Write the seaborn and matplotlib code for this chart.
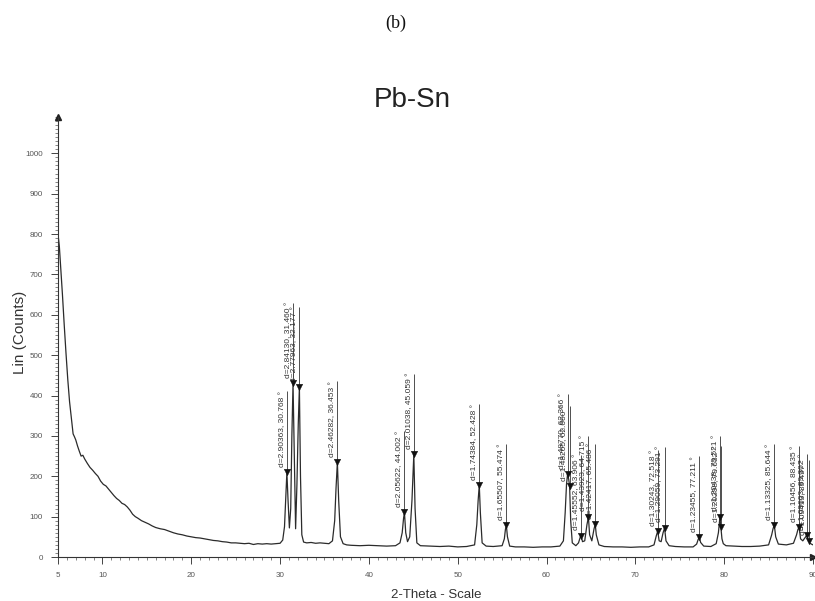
import matplotlib
matplotlib.use("Agg")
import matplotlib.pyplot as plt
import seaborn as sns
import numpy as np
import pandas as pd
from matplotlib.ticker import MultipleLocator, FixedLocator

# ---------------- data ----------------
two_theta = [
    5.0, 5.15, 5.3, 5.5, 5.7, 5.9, 6.1, 6.3, 6.5, 6.7, 6.85, 7.0, 7.2, 7.4, 7.6, 7.8,
    8.0, 8.3, 8.6, 8.9, 9.2, 9.5, 9.8, 10.1, 10.4, 10.7, 11.0, 11.3, 11.6, 11.9, 12.2,
    12.5, 12.8, 13.1, 13.4, 13.7, 14.0, 14.4, 14.8, 15.2, 15.6, 16.0, 16.5, 17.0, 17.5,
    18.0, 18.5, 19.0, 19.5, 20.0, 20.5, 21.0, 21.5, 22.0, 22.5, 23.0, 23.5, 24.0, 24.5,
    25.0, 25.5, 26.0, 26.5, 27.0, 27.5, 28.0, 28.5, 29.0, 29.5, 30.0, 30.3, 30.5, 30.65,
    30.768, 30.9, 31.05, 31.2, 31.33, 31.46, 31.6, 31.75, 31.9, 32.05, 32.177, 32.3,
    32.45, 32.65, 33.0, 33.5, 34.0, 34.5, 35.0, 35.5, 35.9, 36.15, 36.3, 36.453, 36.6,
    36.8, 37.1, 37.5, 38.0, 39.0, 40.0, 41.0, 42.0, 43.0, 43.5, 43.75, 43.9, 44.002,
    44.15, 44.35, 44.6, 44.85, 45.059, 45.2, 45.4, 45.8, 47.0, 48.0, 49.0, 50.0, 51.0,
    51.9, 52.15, 52.3, 52.428, 52.55, 52.75, 53.2, 54.0, 55.0, 55.25, 55.37, 55.474,
    55.6, 55.85, 56.5, 57.5, 58.5, 59.5, 60.5, 61.5, 61.9, 62.1, 62.25, 62.366, 62.5,
    62.6, 62.72, 62.9, 63.3, 63.6, 63.78, 63.906, 64.05, 64.3, 64.55, 64.715, 64.85,
    65.1, 65.35, 65.486, 65.6, 65.9, 66.5, 67.5, 68.5, 69.5, 70.5, 71.5, 72.1, 72.35,
    72.518, 72.68, 72.9, 73.12, 73.291, 73.45, 73.8, 74.5, 75.5, 76.5, 76.9, 77.08,
    77.211, 77.35, 77.7, 78.5, 79.1, 79.35, 79.521, 79.632, 79.75, 79.9, 80.2, 81.0,
    82.0, 83.0, 84.0, 85.0, 85.35, 85.5, 85.644, 85.8, 86.1, 87.0, 87.8, 88.15, 88.3,
    88.435, 88.6, 88.85, 89.1, 89.302, 89.4, 89.497, 89.65, 90.0,
]
counts = [
    800, 770, 720, 650, 575, 505, 440, 385, 345, 305, 298, 290, 275, 262, 250, 252,
    243, 232, 222, 215, 207, 200, 188, 180, 176, 168, 160, 152, 145, 140, 133,
    130, 124, 116, 106, 100, 96, 90, 86, 82, 77, 73, 70, 68, 64,
    60, 57, 55, 52, 50, 48, 47, 45, 43, 41, 40, 38, 37, 35,
    35, 34, 33, 34, 31, 33, 32, 33, 32, 33, 34, 42, 75, 150,
    210, 140, 72, 120, 300, 430, 250, 70, 180, 330, 420, 200,
    55, 37, 35, 36, 34, 35, 34, 33, 40, 90, 170, 235, 140,
    50, 33, 30, 29, 28, 29, 28, 27, 28, 35, 60, 95, 111,
    60, 38, 50, 140, 254, 120, 35, 28, 27, 26, 27, 25, 26,
    30, 80, 140, 178, 110, 35, 27, 26, 28, 45, 68, 79,
    50, 27, 25, 25, 24, 25, 25, 27, 40, 110, 180, 205, 192,
    175, 90, 35, 28, 35, 48, 52, 38, 40, 80, 99, 55,
    40, 70, 81, 55, 30, 26, 25, 25, 24, 25, 25, 30, 52,
    64, 40, 38, 60, 72, 40, 28, 26, 25, 25, 32, 44,
    49, 36, 27, 26, 33, 60, 99, 74, 45, 33, 28, 27,
    26, 26, 27, 30, 55, 70, 79, 50, 32, 30, 34, 55, 68,
    74, 45, 40, 48, 54, 44, 40, 34, 30,
]

peak_pos = [30.768, 31.460, 32.177, 36.453, 44.002, 45.059, 52.428, 55.474,
            62.366, 62.600, 63.906, 64.715, 65.486, 72.518, 73.291, 77.211,
            79.521, 79.632, 85.644, 88.435, 89.302, 89.497]
peak_height = [210, 430, 420, 235, 111, 254, 178, 79,
               205, 175, 52, 99, 81, 64, 72, 49,
               99, 74, 79, 74, 54, 40]
peak_labels = [
    "d=2.90363, 30.768 °", "d=2.84130, 31.460 °", "d=2.77963, 32.177 °",
    "d=2.46282, 36.453 °", "d=2.05622, 44.002 °", "d=2.01038, 45.059 °",
    "d=1.74384, 52.428 °", "d=1.65507, 55.474 °", "d=1.48770, 62.366 °",
    "d=1.48265, 62.600 °", "d=1.45552, 63.906 °", "d=1.43923, 64.715 °",
    "d=1.42417, 65.486 °", "d=1.30243, 72.518 °", "d=1.29059, 73.291 °",
    "d=1.23455, 77.211 °", "d=1.20438, 79.521 °", "d=1.20298, 79.632 °",
    "d=1.13325, 85.644 °", "d=1.10456, 88.435 °", "d=1.09603, 89.302 °",
    "d=1.09413, 89.497 °",
]

x_ticks = [5, 10, 20, 30, 40, 50, 60, 70, 80, 90]
y_ticks = [0, 100, 200, 300, 400, 500, 600, 700, 800, 900, 1000]

# ---------------- figure ----------------
sns.set_theme(style="white")
plt.rcParams["font.family"] = ["Liberation Sans", "DejaVu Sans"]

fig = plt.figure(figsize=(8.15, 6.01), dpi=100)
ax = fig.add_axes([58 / 815, 44 / 601, (813 - 58) / 815, (557 - 117) / 601])

df = pd.DataFrame({"2theta": two_theta, "counts": counts})
sns.lineplot(data=df, x="2theta", y="counts", ax=ax, color="#2b2b2b",
             linewidth=0.9, sort=False, estimator=None)

pk = pd.DataFrame({"x": peak_pos, "y": peak_height})
sns.scatterplot(data=pk, x="x", y="y", ax=ax, marker="v", s=22,
                color="#111111", edgecolor="#111111", linewidth=0.3, zorder=5)

line_len = 200
ax.vlines(peak_pos, peak_height, [h + line_len for h in peak_height],
          color="#333333", linewidth=0.6, zorder=4)
for x, h, lab in zip(peak_pos, peak_height, peak_labels):
    ax.annotate(lab, xy=(x, h), xytext=(-0.8, 4), textcoords="offset points",
                rotation=90, ha="right", va="bottom", fontsize=6.0,
                color="#333333")

ax.set_xlim(5, 90)
ax.set_ylim(0, 1090)

for s in ["top", "right"]:
    ax.spines[s].set_visible(False)
for s in ["left", "bottom"]:
    ax.spines[s].set_color("#333333")
    ax.spines[s].set_linewidth(0.8)

ax.xaxis.set_major_locator(FixedLocator(x_ticks))
ax.xaxis.set_minor_locator(MultipleLocator(1))
ax.yaxis.set_major_locator(FixedLocator(y_ticks))
ax.yaxis.set_minor_locator(MultipleLocator(10))
ax.set_xticklabels([str(t) for t in x_ticks])
ax.set_yticklabels([str(t) for t in y_ticks])
ax.tick_params(axis="both", which="major", direction="out", length=5, width=0.7,
               color="#444444", labelsize=5.8, labelcolor="#555555", pad=6,
               bottom=True, left=True)
ax.tick_params(axis="both", which="minor", direction="out", length=2.5, width=0.5,
               color="#555555", bottom=True, left=True)

# arrow heads at the ends of the axes
ax.plot([5], [1090], marker="^", color="#222222", markersize=4, clip_on=False)
ax.plot([90], [0], marker=">", color="#222222", markersize=4, clip_on=False)

ax.set_xlabel("")
ax.set_ylabel("")
fig.text(0.025, 1 - 332 / 601, "Lin (Counts)", rotation=90, ha="center",
         va="center", fontsize=11, color="#333333")
fig.text(436 / 815, 1 - 595 / 601, "2-Theta - Scale", ha="center", va="center",
         fontsize=9.5, color="#333333")
fig.text(412 / 815, 1 - 100 / 601, "Pb-Sn", ha="center", va="center",
         fontsize=20, color="#222222")
fig.text(396 / 815, 1 - 23 / 601, "(b)", ha="center", va="center",
         fontsize=13, color="#111111", family=["Liberation Serif", "DejaVu Serif"])

fig.savefig("out.png", dpi=100, facecolor="white")
